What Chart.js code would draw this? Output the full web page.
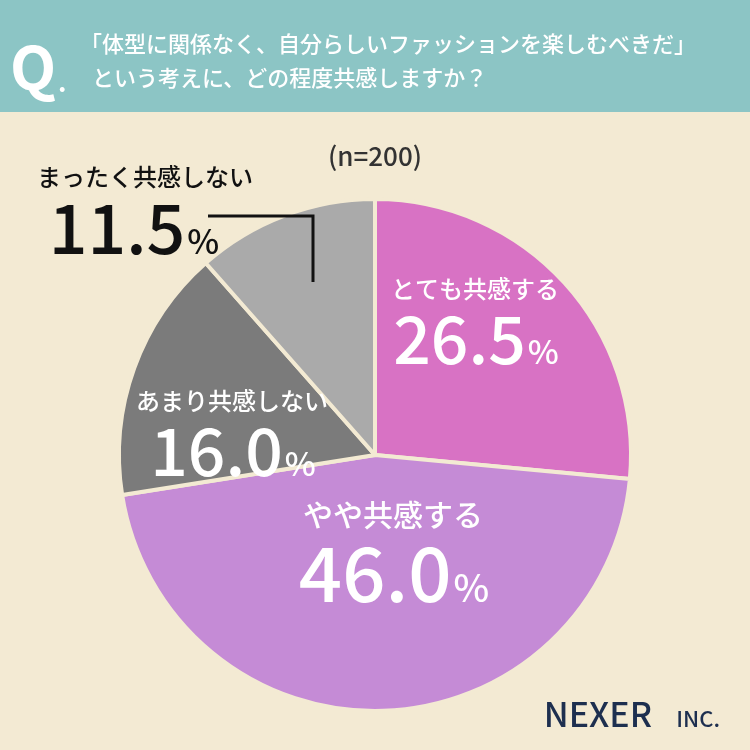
<!DOCTYPE html><html><head><meta charset="utf-8">
<script src="https://cdn.jsdelivr.net/npm/chart.js@4"></script>
<style>html,body{margin:0;padding:0;background:#f3ead3}#w{position:relative;width:750px;height:750px}</style></head><body>
<div id="w"><canvas id="c" width="750" height="750"></canvas></div>
<script>
const categories=["とても共感する","やや共感する","あまり共感しない","まったく共感しない"];
const values=[26.5,46.0,16.0,11.5];
const colors=["#d872c4","#c58bd6","#7b7b7b","#aaaaaa"];
const F='"Noto Sans CJK JP","Noto Sans",sans-serif';
const deco={id:'deco',beforeDraw(ch){const c=ch.ctx;c.save();c.fillStyle='#f3ead3';c.fillRect(0,0,750,750);c.fillStyle='#8cc5c5';c.fillRect(0,0,750,112);
c.fillStyle='#fff';c.font='bold 60px '+F;c.textBaseline='alphabetic';c.fillText('Q',10,90);c.font='bold 26px '+F;c.fillText('.',58,92);
c.font='500 22px '+F;c.fillText('「体型に関係なく、自分らしいファッションを楽しむべきだ」',80,52);c.fillText('という考えに、どの程度共感しますか？',92,86);c.restore();},
afterDraw(ch){const c=ch.ctx;c.save();c.textAlign='center';c.textBaseline='alphabetic';
function lab(t,v,x,y,col,s1,s2,tx){c.fillStyle=col;c.font='500 '+s1+'px '+F;c.fillText(t,tx||x,y);c.font='500 '+s2+'px '+F;const pw=c.measureText(v).width;c.font='500 '+(s2*0.5)+'px '+F;const qw=c.measureText('%').width;const x0=x-(pw+qw)/2;c.textAlign='left';c.font='500 '+s2+'px '+F;c.fillText(v,x0,y+s2*1.0);c.font='500 '+(s2*0.5)+'px '+F;c.fillText('%',x0+pw+2,y+s2*1.0);c.textAlign='center';}
lab(categories[0],values[0].toFixed(1),475,298,'#fff',24,66);
lab(categories[1],values[1].toFixed(1),393,526,'#fff',30,76);
lab(categories[2],values[2].toFixed(1),232,410,'#fff',24,66);
lab(categories[3],values[3].toFixed(1),133,186,'#111',24,68,145);
c.fillStyle='#333';c.font='500 26px '+F;c.fillText('(n=200)',375,166);
c.strokeStyle='#111';c.lineWidth=3;c.beginPath();c.moveTo(208,216);c.lineTo(313,216);c.lineTo(313,282);c.stroke();
c.textAlign='right';c.fillStyle='#1d2f4f';c.font='500 34px '+F;c.fillText('NEXER',652,727);c.font='500 22px '+F;c.fillText('INC.',720,727);
c.restore();}};
new Chart(document.getElementById('c'),{type:'pie',data:{labels:categories,datasets:[{data:values,backgroundColor:colors,borderColor:'#f3ead3',borderWidth:4}]},
options:{responsive:false,animation:false,layout:{padding:{top:197,bottom:37,left:117,right:117}},plugins:{legend:{display:false},tooltip:{enabled:false}}},plugins:[deco]});
</script></body></html>
